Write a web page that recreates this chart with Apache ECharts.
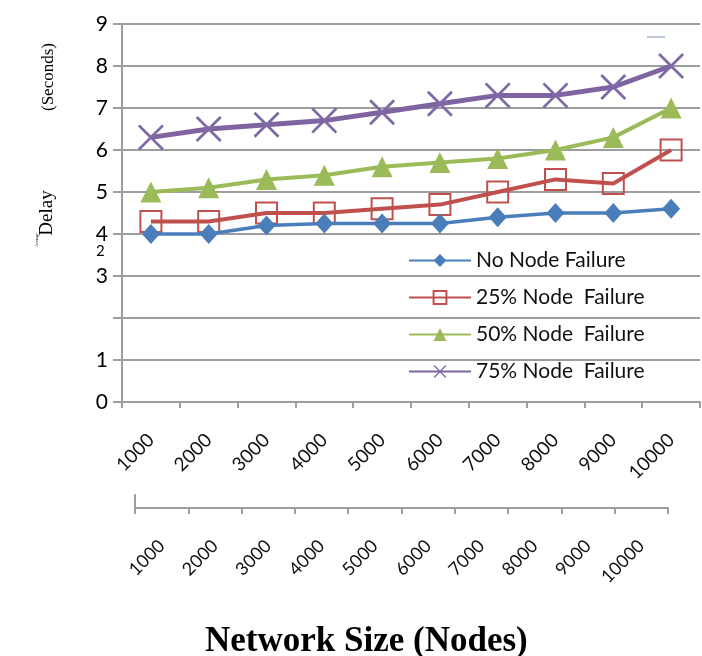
<!DOCTYPE html>
<html><head><meta charset="utf-8">
<script src="https://cdn.jsdelivr.net/npm/echarts@6/dist/echarts.min.js"></script>
<style>html,body{margin:0;padding:0;background:#fff}#c{width:702px;height:656px}</style>
</head><body><div id="c"></div>
<script>
const categories = ['1000','2000','3000','4000','5000','6000','7000','8000','9000','10000'];
const yTickLabels = ['0','1','','3','4','5','6','7','8','9'];
const seriesNames = ['No Node Failure','25% Node  Failure','50% Node  Failure','75% Node  Failure'];
const noFailure = [4.0,4.0,4.2,4.25,4.25,4.25,4.4,4.5,4.5,4.6];
const fail25 = [4.3,4.3,4.5,4.5,4.6,4.7,5.0,5.3,5.2,6.0];
const fail50 = [5.0,5.1,5.3,5.4,5.6,5.7,5.8,6.0,6.3,7.0];
const fail75 = [6.3,6.5,6.6,6.7,6.9,7.1,7.3,7.3,7.5,8.0];

const grey = '#9d9d9d';
const lab = 'Lato, "Open Sans", sans-serif';
const serif = '"Liberation Serif", "DejaVu Serif", serif';
const xPath = 'path://M0,1.5 L1.5,0 L10,8.5 L18.5,0 L20,1.5 L11.5,10 L20,18.5 L18.5,20 L10,11.5 L1.5,20 L0,18.5 L8.5,10 Z';

const chart = echarts.init(document.getElementById('c'), null, {renderer:'canvas'});
chart.setOption({
  animation: false,
  backgroundColor: '#fff',
  title: {
    text: 'Network Size (Nodes)', left: 205, top: 624, padding: 0,
    textStyle: {fontFamily: serif, fontSize: 35, fontWeight: 'bold', color: '#000'}
  },
  legend: {
    orient: 'vertical', left: 408, top: 250, padding: 0,
    itemWidth: 62, itemHeight: 16, itemGap: 16,
    textStyle: {fontFamily: lab, fontSize: 21, color: '#111'},
    data: seriesNames
  },
  grid: [
    {left: 122, right: 2, top: 24, bottom: 254, containLabel: false},
    {left: 135, right: 34, top: 495, height: 13, containLabel: false}
  ],
  xAxis: [
    {
      type: 'category', gridIndex: 0, data: categories, boundaryGap: true,
      axisLine: {lineStyle: {color: grey, width: 2}},
      axisTick: {show: true, length: 6, lineStyle: {color: grey, width: 2}},
      axisLabel: {rotate: 45, margin: 35, fontFamily: lab, fontSize: 19, color: '#111', interval: 0}
    },
    {
      type: 'category', gridIndex: 1, data: categories, boundaryGap: true,
      axisLine: {lineStyle: {color: grey, width: 2}},
      axisTick: {show: true, length: 6, lineStyle: {color: grey, width: 2}},
      axisLabel: {rotate: 45, margin: 35, fontFamily: lab, fontSize: 18, color: '#111', interval: 0}
    }
  ],
  yAxis: [
    {
      type: 'value', gridIndex: 0, min: 0, max: 9, interval: 1,
      axisLine: {show: true, lineStyle: {color: grey, width: 2}},
      axisTick: {show: true, length: 9, lineStyle: {color: grey, width: 2}},
      splitLine: {show: true, lineStyle: {color: grey, width: 2}},
      axisLabel: {margin: 14, fontFamily: lab, fontSize: 21, color: '#000',
        formatter: v => yTickLabels[Math.round(v)]}
    },
    {
      type: 'value', gridIndex: 1, min: 0, max: 1,
      axisLine: {show: true, lineStyle: {color: grey, width: 2}},
      axisTick: {show: false}, axisLabel: {show: false}, splitLine: {show: false}
    }
  ],
  series: [
    {
      name: seriesNames[0], type: 'line', data: noFailure, color: '#4a7ebb',
      symbol: 'diamond', symbolSize: [18, 20],
      lineStyle: {color: '#4a7ebb', width: 3.5}, itemStyle: {color: '#4a7ebb'}, z: 4
    },
    {
      name: seriesNames[1], type: 'line', data: fail25, color: '#c0504d',
      symbol: 'rect', symbolSize: 21,
      lineStyle: {color: '#c0504d', width: 4},
      itemStyle: {color: 'rgba(255,255,255,0)', borderColor: '#c0504d', borderWidth: 2}, z: 3
    },
    {
      name: seriesNames[2], type: 'line', data: fail50, color: '#9bbb59',
      symbol: 'triangle', symbolSize: [21, 21],
      lineStyle: {color: '#9bbb59', width: 4}, itemStyle: {color: '#9bbb59'}, z: 3
    },
    {
      name: seriesNames[3], type: 'line', data: fail75, color: '#8064a2',
      symbol: xPath, symbolSize: 26,
      lineStyle: {color: '#8064a2', width: 5}, itemStyle: {color: '#7e6aa6'}, z: 3
    }
  ],
  graphic: [
    {type: 'text', left: 96, top: 244, style: {text: '2', font: '15px ' + lab, fill: '#000'}},
    {type: 'text', x: 49, y: 77, rotation: Math.PI / 2,
      style: {text: '(Seconds)', font: '17px ' + serif, fill: '#000', align: 'center', verticalAlign: 'middle'}},
    {type: 'text', x: 47, y: 213, rotation: Math.PI / 2,
      style: {text: 'Delay', font: '19px ' + serif, fill: '#000', align: 'center', verticalAlign: 'middle'}},
    {type: 'text', x: 37, y: 240, rotation: Math.PI / 2,
      style: {text: 'Average', font: '4px ' + serif, fill: '#000', align: 'center', verticalAlign: 'middle'}},
    {type: 'line', shape: {x1: 647, y1: 37, x2: 665, y2: 37}, style: {stroke: '#a9bad3', lineWidth: 1.5}}
  ]
});
</script></body></html>
